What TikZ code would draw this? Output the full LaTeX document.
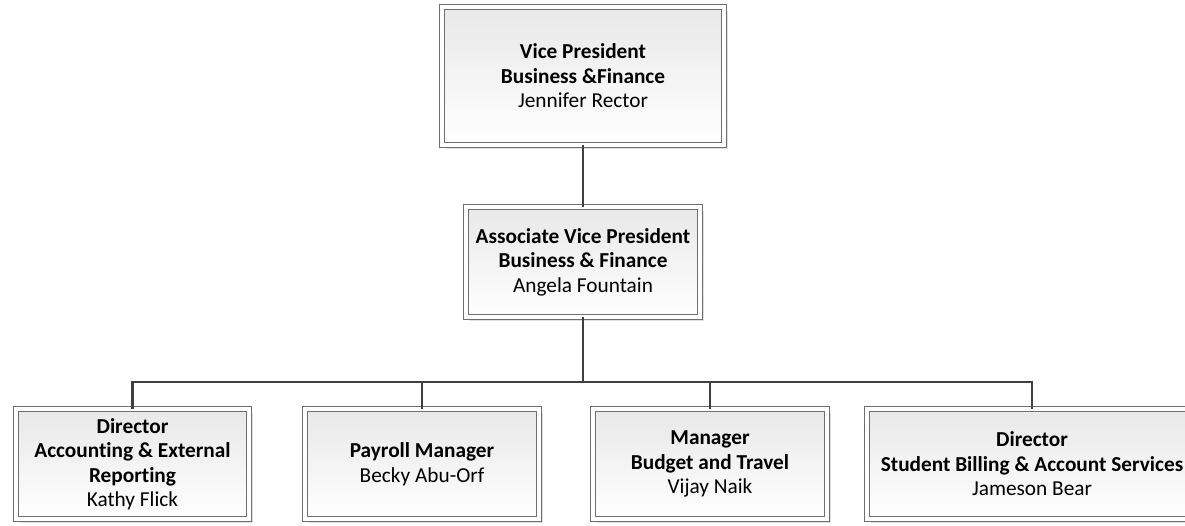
\documentclass[tikz,border=0pt]{standalone}
\usepackage{fontspec}
\setmainfont{Carlito}[Ligatures=NoCommon]
\usetikzlibrary{shadows}
\definecolor{frame}{HTML}{6E6E6E}
\definecolor{wire}{HTML}{404040}
\tikzset{
	posbox/.style={draw=frame, double=white, double distance=3.5pt, line width=0.9pt,
		top color=black!9, bottom color=white, align=center,
		font=\fontsize{21.3}{24.5}\selectfont, inner sep=0pt,
		drop shadow={shadow xshift=4pt, shadow yshift=-4pt, fill=black!12, opacity=1}},
	link/.style={draw=wire, line width=2.2pt}
}
\begin{document}
\begin{tikzpicture}[x=1pt,y=-1pt]
			\useasboundingbox (0,0) rectangle (1185,526);
			\node [posbox, minimum width=282pt, minimum height=138pt] (vp) at (583,76) {\textbf{Vice President}\\\textbf{Business \&Finance}\\Jennifer Rector};
			\node [posbox, minimum width=234pt, minimum height=110pt] (avp) at (583,262) {\textbf{Associate Vice President}\\\textbf{Business \& Finance}\\Angela Fountain};
			\node [posbox, minimum width=233pt, minimum height=110pt] (acct) at (132.5,464) {\textbf{Director}\\\textbf{Accounting \& External}\\\textbf{Reporting}\\Kathy Flick};
			\node [posbox, minimum width=234pt, minimum height=110pt] (pay) at (422,464) {\textbf{Payroll Manager}\\Becky Abu-Orf};
			\node [posbox, minimum width=234pt, minimum height=110pt] (budget) at (710,464) {\textbf{Manager}\\\textbf{Budget and Travel}\\Vijay Naik};
			\node [posbox, minimum width=330pt, minimum height=110pt] (billing) at (1032,464) {\textbf{Director}\\\textbf{Student Billing \& Account Services}\\Jameson Bear};
			\coordinate (bus) at (583,382);
			\draw [link] (vp) -- (avp);
			\draw [link] (avp) -- (bus);
			\draw [link] (bus) -| (acct);
			\draw [link] (bus) -| (pay);
			\draw [link] (bus) -| (budget);
			\draw [link] (bus) -| (billing);
		\end{tikzpicture}
\end{document}
